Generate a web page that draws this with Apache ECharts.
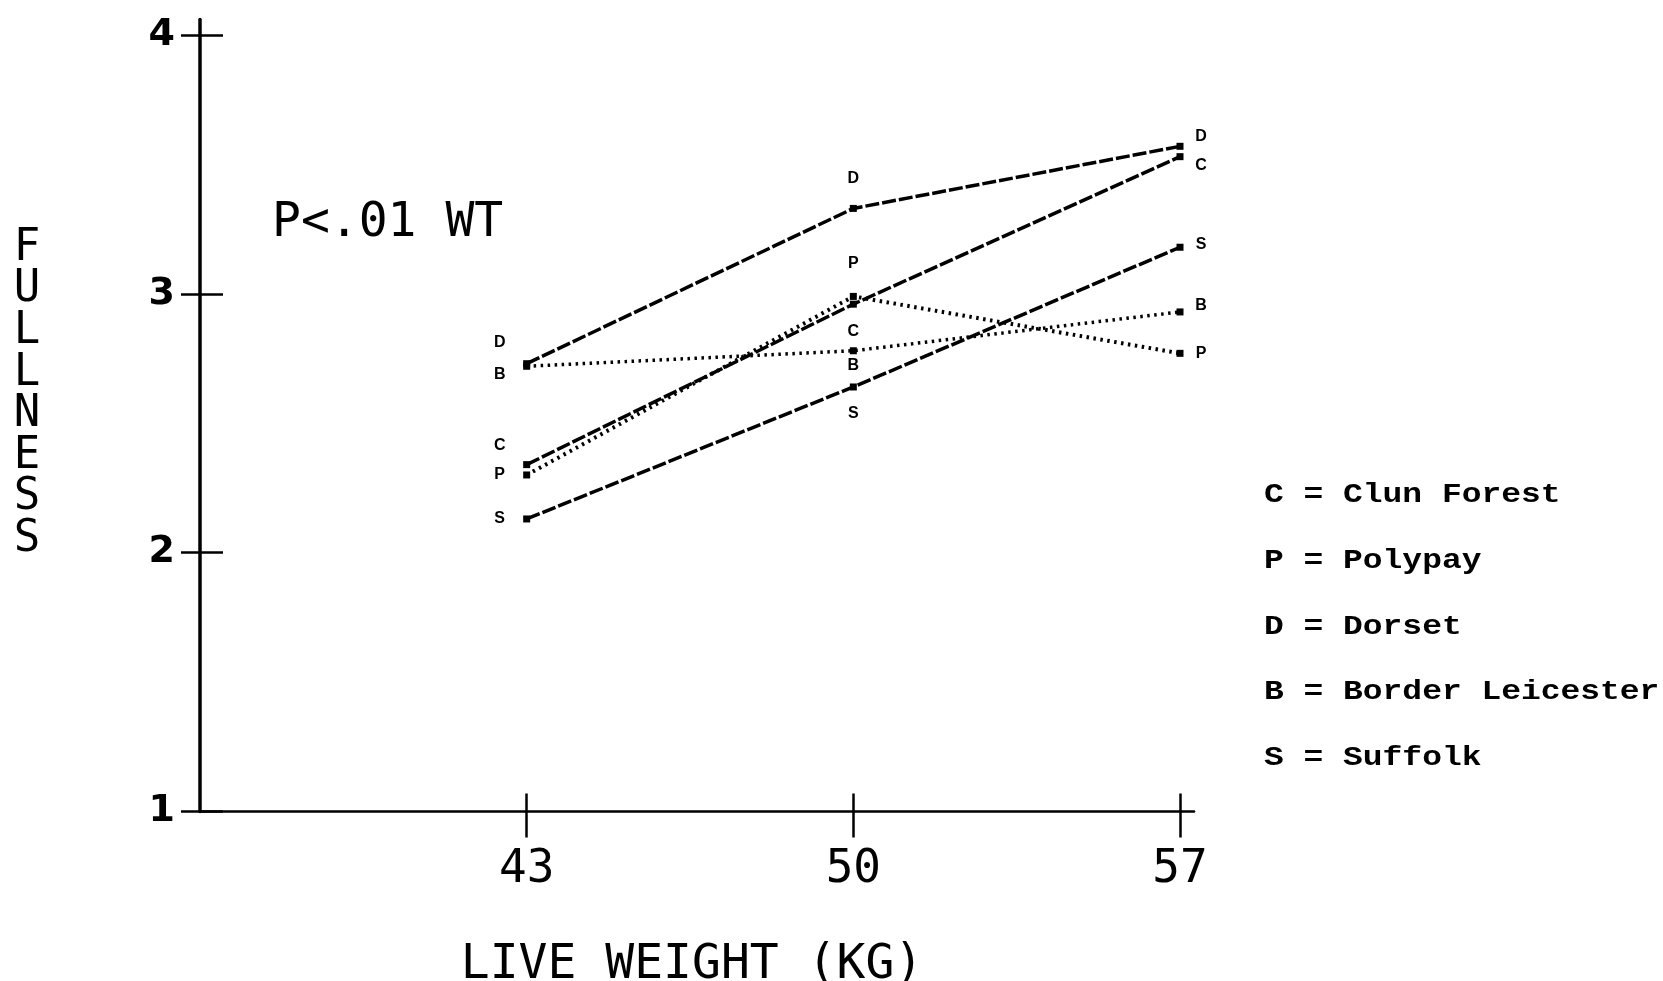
<!DOCTYPE html>
<html><head><meta charset="utf-8">
<script src="https://cdn.jsdelivr.net/npm/echarts@6/dist/echarts.min.js"></script>
<style>html,body{margin:0;padding:0;background:#fff}#c{width:1663px;height:981px}</style>
</head><body><div id="c"></div>
<script>
// ---- data ----
const weights = [43, 50, 57];
const xTickValues = [43, 50, 57];
const yTickValues = [1, 2, 3, 4];
const breedCodes = ['C', 'P', 'D', 'B', 'S'];
const breedNames = ['Clun Forest', 'Polypay', 'Dorset', 'Border Leicester', 'Suffolk'];
const clunForest = [2.34, 2.96, 3.53];
const polypay = [2.30, 2.99, 2.77];
const dorset = [2.73, 3.33, 3.57];
const borderLeicester = [2.72, 2.78, 2.93];
const suffolk = [2.13, 2.64, 3.18];
const annotationText = 'P<.01 WT';
const xTitle = 'LIVE WEIGHT (KG)';
const yTitle = 'FULLNESS';

// ---- styling (not data) ----
const seriesValues = {C: clunForest, P: polypay, D: dorset, B: borderLeicester, S: suffolk};
const labelOffsets = {
  C: [[-27, -19], [0, 27], [21, 9]],
  P: [[-27, 0], [0, -33], [21, 0]],
  D: [[-27, -21], [0, -30], [21, -10]],
  B: [[-27, 8], [0, 15], [21, -6]],
  S: [[-27, 0], [0, 27], [21, -3]]
};
const lineStyles = {
  C: {type: [14, 3], width: 3.5},
  P: {type: [2.5, 4.5], width: 4},
  D: {type: [14, 3], width: 3.5},
  B: {type: [2.5, 4.5], width: 3.5},
  S: {type: [14, 3], width: 3.5}
};

const series = breedCodes.map(code => ({
  name: code,
  type: 'line',
  xAxisIndex: 0,
  yAxisIndex: 0,
  symbol: 'rect',
  symbolSize: 7,
  itemStyle: {color: '#000'},
  lineStyle: Object.assign({color: '#000'}, lineStyles[code]),
  data: weights.map((w, i) => ({
    value: [w, seriesValues[code][i]],
    label: {
      show: true, position: 'inside', offset: labelOffsets[code][i],
      formatter: code, color: '#000', fontFamily: 'Liberation Sans',
      fontWeight: 'bold', fontSize: 16
    }
  }))
}));

const legendY = [495, 561, 627, 692, 758];
const graphic = [
  {type: 'text', x: 27, y: 394, style: {text: yTitle.split('').join('\n'), fontFamily: 'DejaVu Sans Mono',
    fontSize: 44, lineHeight: 41.6, fill: '#000', align: 'center', verticalAlign: 'middle'}},
  {type: 'text', x: 272, y: 224, style: {text: annotationText, fontFamily: 'DejaVu Sans Mono',
    fontSize: 48, fill: '#000', align: 'left', verticalAlign: 'middle'}},
  {type: 'text', x: 692, y: 966, style: {text: xTitle, fontFamily: 'DejaVu Sans Mono',
    fontSize: 48, fill: '#000', align: 'center', verticalAlign: 'middle'}}
].concat(breedCodes.map((c, i) => ({
  type: 'text', x: 1264, y: legendY[i], scaleX: 1.22,
  style: {text: c + ' = ' + breedNames[i], fontFamily: 'Liberation Mono', fontWeight: 'bold',
    fontSize: 27, fill: '#000', align: 'left', verticalAlign: 'middle'}
})));

const chart = echarts.init(document.getElementById('c'));
chart.setOption({
  animation: false,
  backgroundColor: '#fff',
  grid: {left: 200, right: 469, top: 19.5, bottom: 169.6, containLabel: false},
  xAxis: [
    {type: 'value', min: 36, max: 57.3, position: 'bottom',
      axisLine: {show: true, onZero: false, lineStyle: {color: '#000', width: 2.5}},
      axisTick: {show: true, inside: true, length: 18, customValues: xTickValues, lineStyle: {color: '#000', width: 2.5}},
      axisLabel: {show: true, customValues: xTickValues, margin: 36, color: '#000',
        fontFamily: 'DejaVu Sans Mono', fontSize: 46},
      splitLine: {show: false}},
    {type: 'value', min: 36, max: 57.3, position: 'bottom', offset: 0,
      axisLine: {show: false, onZero: false},
      axisTick: {show: true, inside: false, length: 26, customValues: xTickValues, lineStyle: {color: '#000', width: 2.5}},
      axisLabel: {show: false}, splitLine: {show: false}}
  ],
  yAxis: [
    {type: 'value', min: 1, max: 4.06, position: 'left',
      axisLine: {show: true, onZero: false, lineStyle: {color: '#000', width: 3.5}},
      axisTick: {show: true, inside: true, length: 23, customValues: yTickValues, lineStyle: {color: '#000', width: 2.5}},
      axisLabel: {show: true, customValues: yTickValues, margin: 25, color: '#000',
        fontFamily: 'DejaVu Sans', fontWeight: 'bold', fontSize: 38},
      splitLine: {show: false}},
    {type: 'value', min: 1, max: 4.06, position: 'left', offset: 0,
      axisLine: {show: false, onZero: false},
      axisTick: {show: true, inside: false, length: 19, customValues: yTickValues, lineStyle: {color: '#000', width: 2.5}},
      axisLabel: {show: false}, splitLine: {show: false}}
  ],
  series: series,
  graphic: graphic
});
</script>
</body></html>
